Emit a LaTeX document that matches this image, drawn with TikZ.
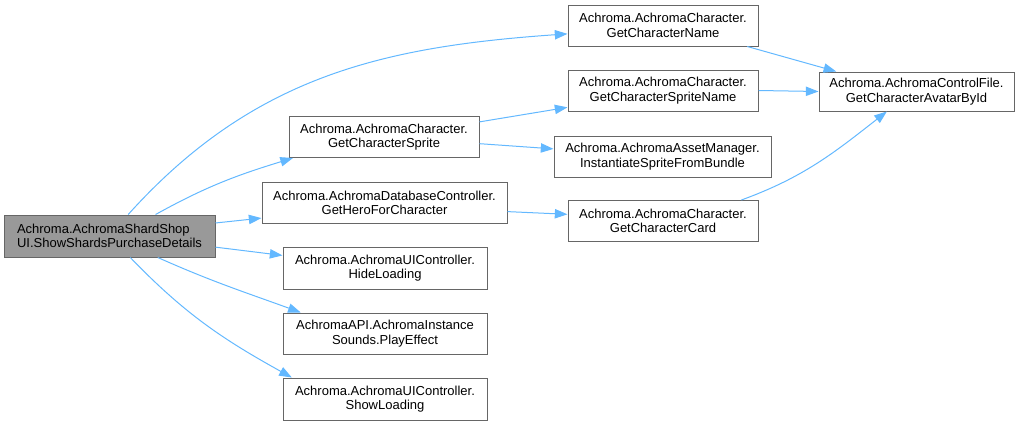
\documentclass[tikz,border=0pt]{standalone}
\usepackage{fontspec}
\setmainfont{Liberation Sans}
\usepackage{xcolor}
\usetikzlibrary{arrows.meta}

\definecolor{callblue}{HTML}{63B8FF}
\definecolor{boxgray}{HTML}{666666}
\definecolor{rootgray}{HTML}{999999}

\begin{document}
\begin{tikzpicture}[x=0.75pt,y=0.75pt,
    fn/.style={draw=boxgray,line width=0.75pt,align=center,inner sep=0pt,minimum height=30.75pt,
      font=\fontsize{9.75}{10.75}\selectfont},
    call/.style={draw=callblue,line width=0.75pt,-{Triangle[length=9.5pt,width=7pt,fill=callblue]}}]
    \useasboundingbox (0,0) rectangle (1021,-425);
    % caller
    \node[fn,fill=rootgray,align=left,minimum width=158.25pt,minimum height=31.5pt] (root) at (109.5,-236) {Achroma.AchromaShardShop\\UI.ShowShardsPurchaseDetails};
    % first level
    \node[fn,minimum width=142.5pt] (name) at (663,-25.5) {Achroma.AchromaCharacter.\\GetCharacterName};
    \node[fn,minimum width=142.5pt] (sprite) at (384,-137) {Achroma.AchromaCharacter.\\GetCharacterSprite};
    \node[fn,minimum width=183.75pt] (hero) at (384.5,-203) {Achroma.AchromaDatabaseController.\\GetHeroForCharacter};
    \node[fn,minimum width=153pt,minimum height=31.5pt] (hide) at (385,-268) {Achroma.AchromaUIController.\\HideLoading};
    \node[fn,minimum width=153pt] (play) at (385,-333.5) {AchromaAPI.AchromaInstance\\Sounds.PlayEffect};
    \node[fn,minimum width=153pt,minimum height=31.5pt] (show) at (385,-399) {Achroma.AchromaUIController.\\ShowLoading};
    % second level
    \node[fn,minimum width=142.5pt] (spritename) at (663,-90.5) {Achroma.AchromaCharacter.\\GetCharacterSpriteName};
    \node[fn,minimum width=162.75pt] (bundle) at (662.5,-156.5) {Achroma.AchromaAssetManager.\\InstantiateSpriteFromBundle};
    \node[fn,minimum width=142.5pt] (card) at (663,-221) {Achroma.AchromaCharacter.\\GetCharacterCard};
    \node[fn,minimum width=146.25pt,minimum height=29.25pt] (avatar) at (916.5,-91.5) {Achroma.AchromaControlFile.\\GetCharacterAvatarById};

    % calls
    \draw[call] (root.49) to[out=48,in=184] (name.185);
    \draw[call] (root.25) to[out=29,in=197] (sprite.193);
    \draw[call] (root.7) -- (hero.187);
    \draw[call] (root.-6) -- (hide.173);
    \draw[call] (root.-24) to[out=-24,in=160] (play.166);
    \draw[call] (root.-46) to[out=-46,in=151] (show.167);
    \draw[call] (sprite.9) -- (spritename.190);
    \draw[call] (sprite.-4) -- (bundle.176);
    \draw[call] (hero.-4) -- (card.176);
    \draw[call] (name.-14) -- (avatar.166);
    \draw[call] (spritename.east) -- (avatar.west);
    \draw[call] (card.15) to[out=20,in=218] (avatar.214);
\end{tikzpicture}
\end{document}
